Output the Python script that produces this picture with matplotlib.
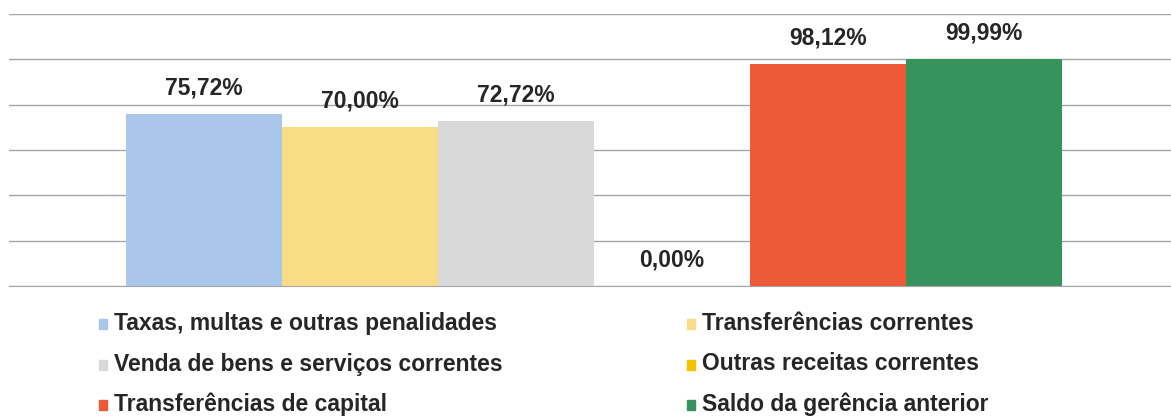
import numpy as np
import matplotlib.pyplot as plt
from matplotlib.patches import Rectangle

plt.rcParams['font.family'] = ['Liberation Sans', 'DejaVu Sans']

series = ["Taxas, multas e outras penalidades", "Transferências correntes",
          "Venda de bens e serviços correntes", "Outras receitas correntes",
          "Transferências de capital", "Saldo da gerência anterior"]
values = [75.72, 70.00, 72.72, 0.00, 98.12, 99.99]
colors = ["#aac6ea", "#f9dc86", "#d9d9d9", "#f2c200", "#ee5a37", "#37935c"]

W, H = 1171, 418
fig = plt.figure(figsize=(W / 100, H / 100), dpi=100)
ax = fig.add_axes([9 / W, (H - 286) / H, (W - 9) / W, (286 - 14) / H])

x = np.arange(len(values))
bars = ax.bar(x, values, width=1.0, color=colors, zorder=2)
ax.bar_label(bars, labels=[f"{v:.2f}%".replace(".", ",") for v in values],
             padding=10.5, fontsize=16.5, fontweight="bold", color="#262626")

ax.set_ylim(0, 120)
ax.set_xlim(-1.25, 6.2)
ax.set_yticks(np.arange(0, 121, 20))
ax.yaxis.grid(True, color="#a6a6a6", linewidth=1.0, zorder=0)
ax.tick_params(left=False, bottom=False, labelleft=False, labelbottom=False)
for s in ["left", "right", "top"]:
    ax.spines[s].set_visible(False)
ax.spines["bottom"].set_color("#a6a6a6")

# legend, two columns, filled row by row
col_x = [99, 687]
row_y = [330, 370.5, 411]
for i, (name, c) in enumerate(zip(series, colors)):
    px = col_x[i % 2]
    py = row_y[i // 2]
    fig.patches.append(Rectangle((px / W, (H - py + 1) / H), 8 / W, 10 / H,
                                 transform=fig.transFigure, color=c))
    fig.text((px + 15) / W, (H - py) / H, name, fontsize=16.5,
             fontweight="bold", color="#262626", va="baseline", ha="left")

fig.savefig("out.png", dpi=100)
